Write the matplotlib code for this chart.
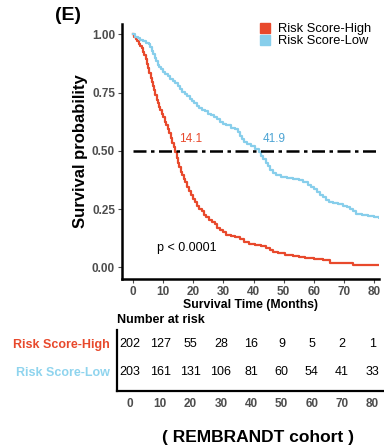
import matplotlib
matplotlib.use("Agg")
import matplotlib.pyplot as plt
from matplotlib.lines import Line2D

plt.rcParams['font.family'] = ['Liberation Sans', 'DejaVu Sans']

# Kaplan-Meier steps (months, survival probability)
high_t = [0, 0.4, 0.9, 1.4, 1.9, 2.4, 2.9, 3.3, 3.8, 4.3, 4.7, 5.1, 5.5, 5.9, 6.3, 6.7,
          7.1, 7.5, 7.9, 8.3, 8.7, 9.1, 9.5, 10.0, 10.5, 11.0, 11.5, 12.0, 12.5, 13.0,
          13.5, 14.1, 14.6, 15.0, 15.4, 15.8, 16.3, 16.8, 17.4, 18.0, 18.6, 19.2, 19.9,
          20.6, 21.3, 22.0, 22.8, 23.6, 24.4, 25.3, 26.2, 27.1, 28.0, 29.0, 30.0, 31.0,
          32.5, 34.0, 35.5, 37.0, 38.5, 40.5, 42.5, 44.0, 45.5, 46.5, 48.0, 50.5, 53.0,
          55.0, 57.0, 60.0, 63.0, 65.5, 73.0, 82.0]
high_s = [1.0, 0.99, 0.98, 0.97, 0.96, 0.95, 0.94, 0.925, 0.91, 0.895, 0.875, 0.855,
          0.835, 0.815, 0.795, 0.78, 0.76, 0.74, 0.72, 0.705, 0.69, 0.675, 0.66, 0.645,
          0.625, 0.61, 0.595, 0.575, 0.555, 0.535, 0.515, 0.495, 0.47, 0.45, 0.43, 0.41,
          0.395, 0.38, 0.365, 0.345, 0.33, 0.31, 0.295, 0.28, 0.265, 0.25, 0.24, 0.225,
          0.215, 0.205, 0.195, 0.185, 0.17, 0.16, 0.15, 0.14, 0.135, 0.13, 0.12, 0.11,
          0.10, 0.095, 0.09, 0.085, 0.075, 0.065, 0.06, 0.055, 0.05, 0.045, 0.04, 0.035,
          0.03, 0.02, 0.012, 0.012]

low_t = [0, 0.8, 1.6, 2.4, 3.2, 4.2, 5.2, 5.8, 6.3, 6.8, 7.3, 7.8, 8.3, 8.8, 9.4, 10.0,
         10.8, 11.6, 12.4, 13.2, 14.0, 14.8, 15.6, 16.4, 17.2, 18.0, 18.8, 19.6, 20.4,
         21.2, 22.0, 22.8, 23.8, 24.8, 25.8, 26.8, 27.8, 28.8, 29.8, 31.0, 32.5, 34.0,
         35.0, 35.5, 36.2, 37.0, 38.0, 39.0, 40.5, 41.9, 42.6, 43.3, 44.0, 44.8, 45.6,
         46.4, 47.5, 49.0, 51.0, 53.0, 55.0, 56.5, 58.0, 59.0, 60.0, 61.0, 62.0, 63.0,
         64.0, 65.0, 66.5, 68.0, 69.5, 71.0, 72.0, 73.0, 74.0, 76.0, 78.0, 80.0, 81.5, 82.0]
low_s = [1.0, 0.99, 0.985, 0.975, 0.97, 0.965, 0.96, 0.945, 0.93, 0.915, 0.90, 0.885,
         0.87, 0.86, 0.85, 0.84, 0.83, 0.82, 0.81, 0.80, 0.79, 0.78, 0.765, 0.755, 0.745,
         0.735, 0.725, 0.715, 0.705, 0.695, 0.685, 0.675, 0.67, 0.66, 0.655, 0.645, 0.635,
         0.625, 0.615, 0.61, 0.60, 0.595, 0.58, 0.565, 0.55, 0.54, 0.53, 0.52, 0.51, 0.495,
         0.48, 0.465, 0.45, 0.435, 0.42, 0.405, 0.395, 0.39, 0.385, 0.38, 0.375, 0.365,
         0.355, 0.345, 0.335, 0.325, 0.31, 0.30, 0.29, 0.28, 0.275, 0.27, 0.265, 0.26,
         0.25, 0.24, 0.23, 0.225, 0.22, 0.215, 0.21, 0.21]

median_high = 14.1
median_low = 41.9

groups = ['Risk Score-High', 'Risk Score-Low']
risk_times = [0, 10, 20, 30, 40, 50, 60, 70, 80]
risk_high = [202, 127, 55, 28, 16, 9, 5, 2, 1]
risk_low = [203, 161, 131, 106, 81, 60, 54, 41, 33]

red = '#E8492C'
blue = '#87CEEB'
grey = '#4d4d4d'

fig = plt.figure(figsize=(3.84, 4.48), dpi=100)

# survival curves
ax = fig.add_axes([122 / 384, 1 - 279 / 448, (379 - 122) / 384, (279 - 24) / 448])
ax.step(high_t, high_s, where='post', color=red, lw=1.6)
ax.step(low_t, low_s, where='post', color=blue, lw=1.6)
ax.plot([0, 82], [0.5, 0.5], color='black', lw=1.8, dashes=(5.2, 1.8, 1.4, 1.8))

ax.text(median_high + 1.2, 0.525, f'{median_high}', color=red, fontsize=8.5, ha='left', va='bottom')
ax.text(median_low + 1.0, 0.525, f'{median_low}', color='#4BA3D3', fontsize=8.5, ha='left', va='bottom')
ax.text(8, 0.085, 'p < 0.0001', color='black', fontsize=9, ha='left', va='center')

ax.set_xlim(-3.6, 81.6)
ax.set_ylim(-0.05, 1.045)
ax.set_xticks(risk_times)
ax.set_yticks([0, 0.25, 0.5, 0.75, 1.0])
ax.set_yticklabels(['0.00', '0.25', '0.50', '0.75', '1.00'])
for s in ['top', 'right']:
    ax.spines[s].set_visible(False)
for s in ['left', 'bottom']:
    ax.spines[s].set_linewidth(1.8)
ax.tick_params(length=3, width=0.8, color=grey, labelsize=8.5, labelcolor=grey, pad=2)
for lab in ax.get_xticklabels() + ax.get_yticklabels():
    lab.set_fontweight('bold')
ax.set_xlabel('Survival Time (Months)', fontsize=8.8, fontweight='bold', labelpad=1)
ax.set_ylabel('Survival probability', fontsize=12, fontweight='bold', labelpad=3)

handles = [Line2D([], [], marker='s', ls='none', color=c, markersize=7) for c in (red, blue)]
fig.legend(handles, groups, loc='upper left', bbox_to_anchor=(259 / 384, 1 - 23 / 448),
           frameon=False, fontsize=9.3, handlelength=1.0, handletextpad=0.5,
           labelspacing=0.0, borderpad=0, borderaxespad=0)

fig.text(55 / 384, 1 - 16 / 448, '(E)', fontsize=14, fontweight='bold', ha='left', va='center')

# number-at-risk table
tab = fig.add_axes([117 / 384, 1 - 391 / 448, (383 - 117) / 384, (391 - 330) / 448])
for row, counts in zip([1, 0], [risk_high, risk_low]):
    for t, n in zip(risk_times, counts):
        tab.text(t, row, str(n), ha='center', va='center', fontsize=9)
tab.set_xlim(-4.3, 83.5)
tab.set_ylim(-0.7, 1.5)
tab.set_xticks(risk_times)
tab.set_yticks([1, 0])
tab.set_yticklabels(groups, fontsize=9, fontweight='bold')
for lab, c in zip(tab.get_yticklabels(), [red, '#8FD4EE']):
    lab.set_color(c)
for s in ['top', 'right']:
    tab.spines[s].set_visible(False)
for s in ['left', 'bottom']:
    tab.spines[s].set_linewidth(1.6)
tab.tick_params(axis='y', length=0, pad=5)
tab.tick_params(axis='x', length=0, labelsize=8.5, labelcolor=grey, pad=5)
for lab in tab.get_xticklabels():
    lab.set_fontweight('bold')

fig.text(117 / 384, 1 - 320 / 448, 'Number at risk', fontsize=9, fontweight='bold',
         ha='left', va='center')
fig.text(258 / 384, 1 - 437 / 448, '( REMBRANDT cohort )', fontsize=12.5, fontweight='bold',
         ha='center', va='center')

fig.savefig('out.png', dpi=100)
